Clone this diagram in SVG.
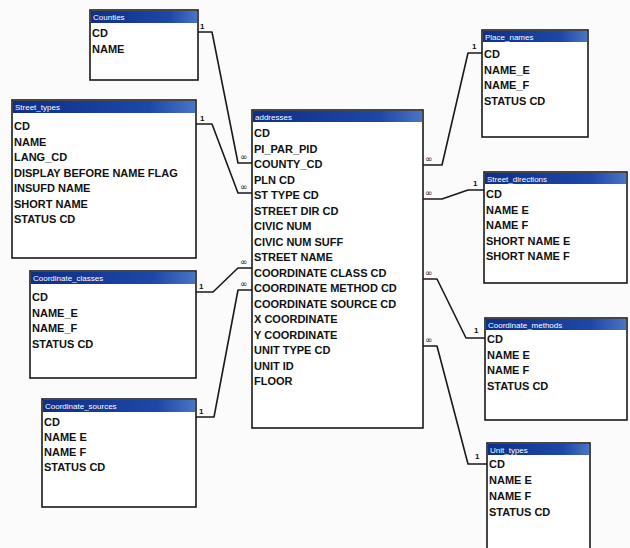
<svg xmlns="http://www.w3.org/2000/svg" width="630" height="548" viewBox="0 0 630 548">
<defs>
<linearGradient id="hg" x1="0" y1="0" x2="1" y2="0">
<stop offset="0" stop-color="#0e2f86"/>
<stop offset="0.75" stop-color="#1d48a8"/>
<stop offset="1" stop-color="#4a74c4"/>
</linearGradient>
<style>
.box{fill:#ffffff;stroke:#1a1a1a;stroke-width:1.6}
.hdr{fill:url(#hg)}
.ht{font-family:"Liberation Sans",Arial,sans-serif;font-size:8px;fill:#ffffff}
.f{font-family:"Liberation Sans",Arial,sans-serif;font-size:11px;font-weight:bold;fill:#111111}
.c{fill:none;stroke:#1a1a1a;stroke-width:1.6;stroke-linejoin:round}
.one{font-family:"Liberation Sans",Arial,sans-serif;font-size:8px;font-weight:bold;fill:#111111}
.inf{font-family:"DejaVu Sans",sans-serif;font-size:9px;fill:#111111}
</style>
</defs>
<rect width="630" height="548" fill="#fbfbfb"/>

<g id="connectors">
<polyline class="c" points="198,32 212,32 238,163 252,163"/>
<text class="one" x="200" y="29">1</text>
<text class="inf" x="240" y="160">∞</text>
<polyline class="c" points="196,124 212,124 238,193 252,193"/>
<text class="one" x="200" y="121">1</text>
<text class="inf" x="240" y="190">∞</text>
<polyline class="c" points="196,292 213,292 238,268 252,268"/>
<text class="one" x="199" y="289">1</text>
<text class="inf" x="240" y="265">∞</text>
<polyline class="c" points="196,417 214,417 238,290 252,290"/>
<text class="one" x="199" y="414">1</text>
<text class="inf" x="240" y="287">∞</text>
<polyline class="c" points="482,53 468,53 442,165 423,165"/>
<text class="one" x="472" y="49">1</text>
<text class="inf" x="425" y="162">∞</text>
<polyline class="c" points="484,190 468,190 442,199 423,199"/>
<text class="one" x="473" y="186">1</text>
<text class="inf" x="425" y="196">∞</text>
<polyline class="c" points="485,338 466,338 437,279 423,279"/>
<text class="one" x="474" y="333">1</text>
<text class="inf" x="425" y="276">∞</text>
<polyline class="c" points="487,464 468,464 437,346 423,346"/>
<text class="one" x="475" y="459">1</text>
<text class="inf" x="425" y="343">∞</text>
</g>

<g id="counties">
<rect class="box" x="90" y="10" width="108" height="70"/>
<rect class="hdr" x="91" y="11" width="106" height="12"/>
<text class="ht" x="93" y="20">Counties</text>
<text class="f" x="92" y="37">CD</text>
<text class="f" x="92" y="52.5">NAME</text>
</g>

<g id="street_types">
<rect class="box" x="12" y="100" width="184" height="158"/>
<rect class="hdr" x="13" y="101" width="182" height="12"/>
<text class="ht" x="15" y="110">Street_types</text>
<text class="f" x="14" y="130">CD</text>
<text class="f" x="14" y="145.5">NAME</text>
<text class="f" x="14" y="161">LANG_CD</text>
<text class="f" x="14" y="176.5">DISPLAY BEFORE NAME FLAG</text>
<text class="f" x="14" y="192">INSUFD NAME</text>
<text class="f" x="14" y="207.5">SHORT NAME</text>
<text class="f" x="14" y="223">STATUS CD</text>
</g>

<g id="coordinate_classes">
<rect class="box" x="30" y="271" width="166" height="107"/>
<rect class="hdr" x="31" y="272" width="164" height="12"/>
<text class="ht" x="33" y="281">Coordinate_classes</text>
<text class="f" x="32" y="301">CD</text>
<text class="f" x="32" y="316.5">NAME_E</text>
<text class="f" x="32" y="332">NAME_F</text>
<text class="f" x="32" y="347.5">STATUS CD</text>
</g>

<g id="coordinate_sources">
<rect class="box" x="42" y="399" width="154" height="108"/>
<rect class="hdr" x="43" y="400" width="152" height="12"/>
<text class="ht" x="45" y="409">Coordinate_sources</text>
<text class="f" x="44" y="426">CD</text>
<text class="f" x="44" y="441">NAME E</text>
<text class="f" x="44" y="456">NAME F</text>
<text class="f" x="44" y="471">STATUS CD</text>
</g>

<g id="addresses">
<rect class="box" x="252" y="110" width="171" height="318"/>
<rect class="hdr" x="253" y="111" width="169" height="11"/>
<text class="ht" x="255" y="119.5">addresses</text>
<text class="f" x="254" y="137">CD</text>
<text class="f" x="254" y="152.5">PI_PAR_PID</text>
<text class="f" x="254" y="168">COUNTY_CD</text>
<text class="f" x="254" y="183.5">PLN CD</text>
<text class="f" x="254" y="199">ST TYPE CD</text>
<text class="f" x="254" y="214.5">STREET DIR CD</text>
<text class="f" x="254" y="230">CIVIC NUM</text>
<text class="f" x="254" y="245.5">CIVIC NUM SUFF</text>
<text class="f" x="254" y="261">STREET NAME</text>
<text class="f" x="254" y="276.5">COORDINATE CLASS CD</text>
<text class="f" x="254" y="292">COORDINATE METHOD CD</text>
<text class="f" x="254" y="307.5">COORDINATE SOURCE CD</text>
<text class="f" x="254" y="323">X COORDINATE</text>
<text class="f" x="254" y="338.5">Y COORDINATE</text>
<text class="f" x="254" y="354">UNIT TYPE CD</text>
<text class="f" x="254" y="369.5">UNIT ID</text>
<text class="f" x="254" y="385">FLOOR</text>
</g>

<g id="place_names">
<rect class="box" x="482" y="30" width="106" height="107"/>
<rect class="hdr" x="483" y="31" width="104" height="11"/>
<text class="ht" x="485" y="39.5">Place_names</text>
<text class="f" x="484" y="58">CD</text>
<text class="f" x="484" y="73.5">NAME_E</text>
<text class="f" x="484" y="89">NAME_F</text>
<text class="f" x="484" y="104.5">STATUS CD</text>
</g>

<g id="street_directions">
<rect class="box" x="484" y="172" width="143" height="111"/>
<rect class="hdr" x="485" y="173" width="141" height="11"/>
<text class="ht" x="487" y="181.5">Street_directions</text>
<text class="f" x="486" y="198">CD</text>
<text class="f" x="486" y="213.5">NAME E</text>
<text class="f" x="486" y="229">NAME F</text>
<text class="f" x="486" y="244.5">SHORT NAME E</text>
<text class="f" x="486" y="260">SHORT NAME F</text>
</g>

<g id="coordinate_methods">
<rect class="box" x="485" y="318" width="142" height="102"/>
<rect class="hdr" x="486" y="319" width="140" height="11"/>
<text class="ht" x="488" y="327.5">Coordinate_methods</text>
<text class="f" x="487" y="343">CD</text>
<text class="f" x="487" y="358.5">NAME E</text>
<text class="f" x="487" y="374">NAME F</text>
<text class="f" x="487" y="389.5">STATUS CD</text>
</g>

<g id="unit_types">
<rect class="box" x="487" y="443" width="103" height="112"/>
<rect class="hdr" x="488" y="444" width="101" height="11"/>
<text class="ht" x="490" y="452.5">Unit_types</text>
<text class="f" x="489" y="468">CD</text>
<text class="f" x="489" y="484">NAME E</text>
<text class="f" x="489" y="500">NAME F</text>
<text class="f" x="489" y="516">STATUS CD</text>
</g>
</svg>
